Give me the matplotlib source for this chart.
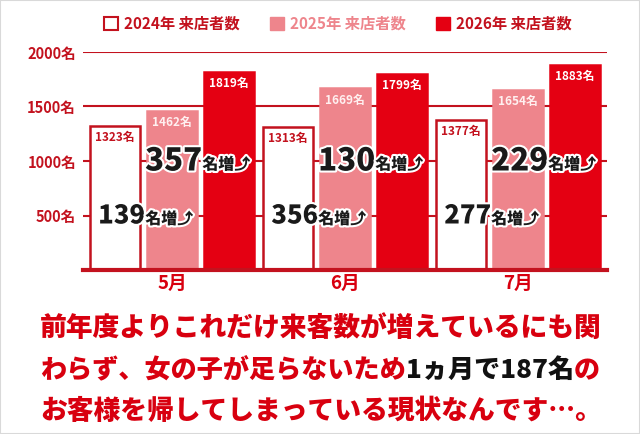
import matplotlib
matplotlib.use("Agg")
import matplotlib.pyplot as plt
import matplotlib.patheffects as pe
from matplotlib.patches import Patch, Rectangle

plt.rcParams["font.family"] = ["Noto Sans CJK JP", "DejaVu Sans"]

# ---- data ----
MONTHS = ["5月", "6月", "7月"]
SERIES = ["2024年 来店者数", "2025年 来店者数", "2026年 来店者数"]
V2024 = [1323, 1313, 1377]
V2025 = [1462, 1669, 1654]
V2026 = [1819, 1799, 1883]
YTICKS = [500, 1000, 1500, 2000]

DARK = "#c3121e"
PINK = "#ee858c"
RED = "#e40012"
TEXT_RED = "#d8000f"

fig = plt.figure(figsize=(6.4, 4.34), dpi=100)
ax = fig.add_axes([83 / 640, (434 - 270) / 434, 524 / 640, (270 - 52) / 434])

step = 0.33
width = 0.29
xs = list(range(len(MONTHS)))

for y in YTICKS:
    ax.axhline(y, color=DARK, lw=1.5, zorder=0)

specs = [
    (V2024, -step, "white", DARK, DARK),
    (V2025, 0.0, PINK, PINK, "#fff0f0"),
    (V2026, step, RED, RED, "white"),
]
for vals, off, fc, ec, lc in specs:
    pos = [x + off for x in xs]
    ax.bar(pos, vals, width=width, color=fc, edgecolor=ec, linewidth=1.8, zorder=2)
    for p, v in zip(pos, vals):
        ax.annotate(f"{v}名", (p, v), xytext=(0, -4), textcoords="offset points",
                    ha="center", va="top", fontsize=8.5, fontweight="bold", color=lc,
                    zorder=4)

# increase annotations (number + 名増⤴)
stroke = [pe.withStroke(linewidth=3, foreground="white")]
for i, x in enumerate(xs):
    pairs = [
        (V2025[i] - V2024[i], x - step / 2, 500, 18.5),
        (V2026[i] - V2025[i], x + step / 2, 1000, 22.5),
    ]
    for d, bx, y, fs in pairs:
        ax.text(bx + 0.01, y, str(d), ha="right", va="center", fontsize=fs,
                fontweight="heavy", color="#1a1a1a", path_effects=stroke, zorder=5)
        ax.text(bx + 0.01, y - 30, "名増⤴", ha="left", va="center", fontsize=11.5,
                fontweight="heavy", color="#1a1a1a", path_effects=stroke, zorder=5)

ax.set_xlim(-0.515, 2.515)
ax.set_ylim(0, 2000)
ax.set_yticks(YTICKS)
ax.set_yticklabels([f"{t}名" for t in YTICKS])
ax.set_xticks(xs)
ax.set_xticklabels(MONTHS)
ax.tick_params(axis="y", length=0, pad=5, labelsize=10.5, labelcolor=DARK)
ax.tick_params(axis="x", length=0, pad=3, labelsize=13.5, labelcolor=TEXT_RED)
for lbl in ax.get_yticklabels() + ax.get_xticklabels():
    lbl.set_fontweight("bold")
for s in ["left", "right", "top"]:
    ax.spines[s].set_visible(False)
ax.spines["bottom"].set_color(DARK)
ax.spines["bottom"].set_linewidth(3)
ax.spines["bottom"].set_zorder(6)

handles = [
    Patch(facecolor="white", edgecolor=DARK, linewidth=1.5),
    Patch(facecolor=PINK, edgecolor=PINK),
    Patch(facecolor=RED, edgecolor=RED),
]
fig.legend(handles, SERIES, loc="center", bbox_to_anchor=(338 / 640, 1 - 24 / 434),
           ncol=3, frameon=False, handlelength=0.9, handleheight=0.9,
           handletextpad=0.4, columnspacing=2.0,
           labelcolor=[DARK, PINK, DARK],
           prop={"size": 11, "weight": "bold"})

# bottom message, with mixed colours on line 2
renderer = fig.canvas.get_renderer()


def draw_runs(runs, x, y, fs):
    for s, c in runs:
        t = fig.text(x, y, s, color=c, fontsize=fs, fontweight="heavy",
                     va="center", ha="left")
        bb = t.get_window_extent(renderer=renderer)
        x += bb.width / fig.bbox.width


x0 = 40 / 640
draw_runs([("前年度よりこれだけ来客数が増えているにも関", TEXT_RED)], x0, 1 - 328 / 434, 19.3)
draw_runs([("わらず、女の子が足らないため", TEXT_RED), ("1ヵ月で187名", "#111111"),
           ("の", TEXT_RED)], x0, 1 - 370 / 434, 18.8)
draw_runs([("お客様を帰してしまっている現状なんです…。", TEXT_RED)], x0, 1 - 411 / 434, 19.3)

fig.patches.append(Rectangle((0, 0), 1, 1, transform=fig.transFigure, fill=False,
                             edgecolor="#d9d9d9", linewidth=1.5))

fig.savefig("out.png", dpi=100)
